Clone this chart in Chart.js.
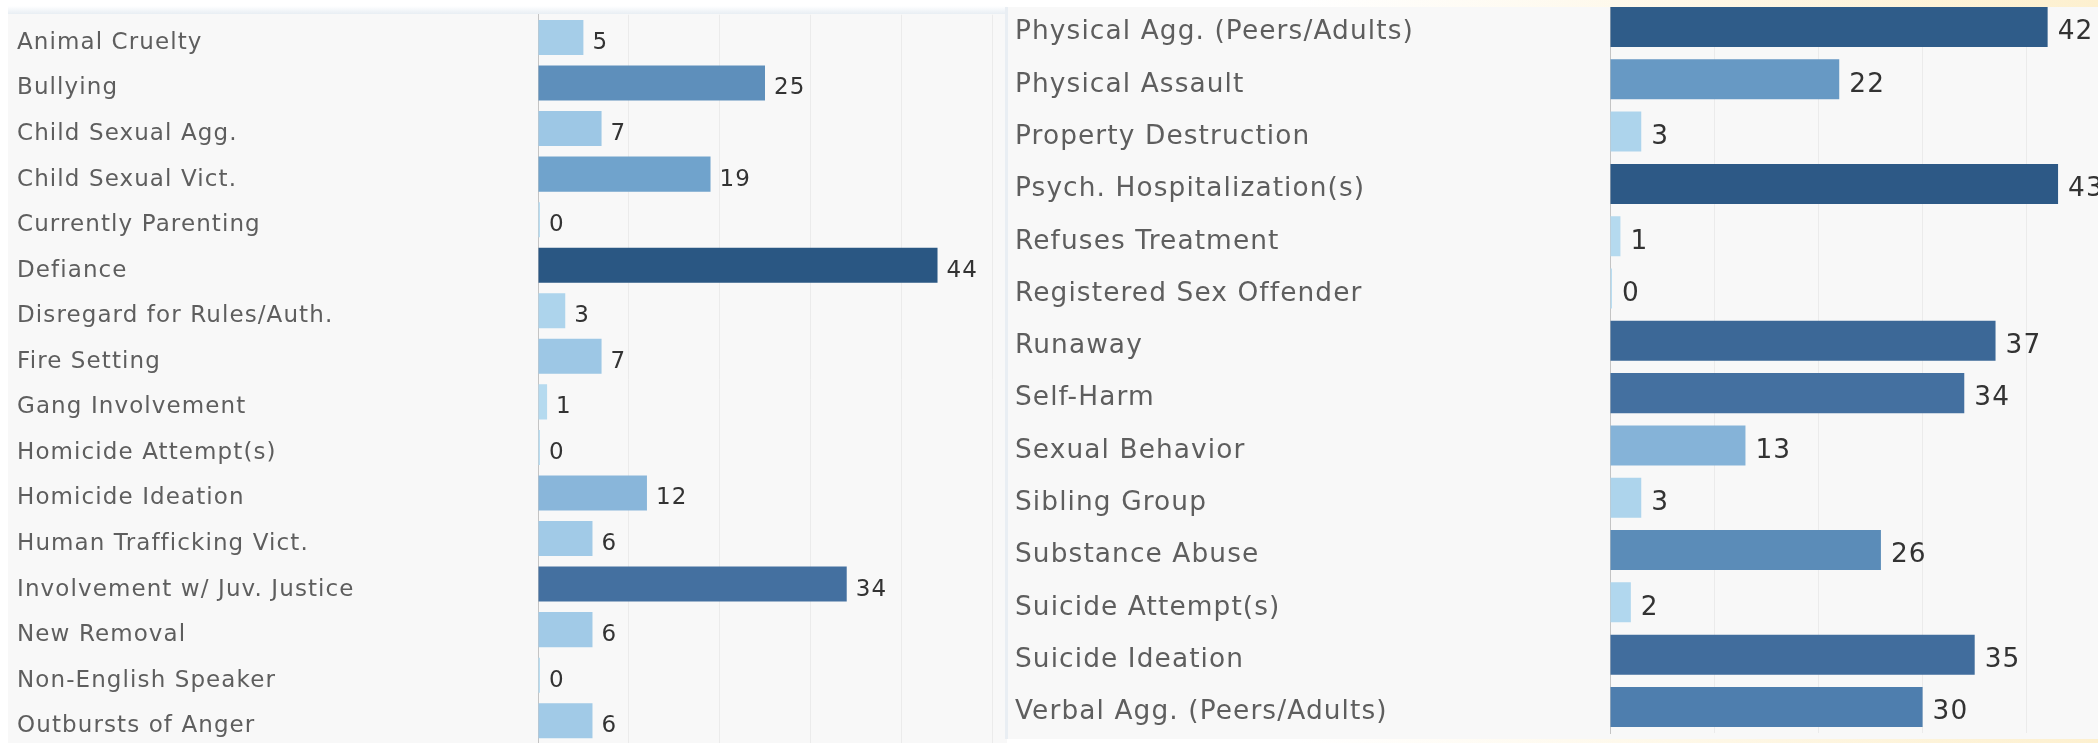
<!DOCTYPE html>
<html>
<head>
<meta charset="utf-8">
<script src="https://cdn.jsdelivr.net/npm/chart.js@4/dist/chart.umd.min.js"></script>
<style>
  html, body { margin: 0; padding: 0; }
  body { width: 2098px; height: 743px; overflow: hidden; background: #ffffff; position: relative; }
  .abs { position: absolute; }
</style>
</head>
<body>
<div class="abs" style="left:8px;top:6px;width:999px;height:8px;background:linear-gradient(#ffffff,#e8eef3);"></div>
<div class="abs" style="left:1300px;top:0;width:798px;height:7px;background:linear-gradient(90deg,#ffffff,#fdf0cf);"></div>
<div class="abs" style="left:1300px;top:739px;width:798px;height:4px;background:linear-gradient(90deg,#ffffff,#fdf0cf);"></div>
<div id="panelL" class="abs" style="left:8px;top:14px;width:999px;height:729px;background:#f8f8f8;overflow:hidden;">
  <div class="abs" style="left:0;top:0;width:999px;height:731px;"><canvas id="chartL"></canvas></div>
</div>
<div class="abs" style="left:1005px;top:7px;width:4px;height:732px;background:#e9eef3;"></div>
<div id="panelR" class="abs" style="left:1008px;top:7px;width:1090px;height:732px;background:#f8f8f8;overflow:hidden;">
  <div class="abs" style="left:0;top:-7px;width:1123px;height:742px;"><canvas id="chartR"></canvas></div>
</div>
<script>
// ---- data ----
const leftCategories = [
  "Animal Cruelty", "Bullying", "Child Sexual Agg.", "Child Sexual Vict.",
  "Currently Parenting", "Defiance", "Disregard for Rules/Auth.", "Fire Setting",
  "Gang Involvement", "Homicide Attempt(s)", "Homicide Ideation", "Human Trafficking Vict.",
  "Involvement w/ Juv. Justice", "New Removal", "Non-English Speaker", "Outbursts of Anger"
];
const leftValues = [5, 25, 7, 19, 0, 44, 3, 7, 1, 0, 12, 6, 34, 6, 0, 6];

const rightCategories = [
  "Physical Agg. (Peers/Adults)", "Physical Assault", "Property Destruction",
  "Psych. Hospitalization(s)", "Refuses Treatment", "Registered Sex Offender",
  "Runaway", "Self-Harm", "Sexual Behavior", "Sibling Group", "Substance Abuse",
  "Suicide Attempt(s)", "Suicide Ideation", "Verbal Agg. (Peers/Adults)"
];
const rightValues = [42, 22, 3, 43, 1, 0, 37, 34, 13, 3, 26, 2, 35, 30];

const axisTicks = [0, 10, 20, 30, 40, 50];

// ---- styles ----
const colorStops = [
  [0, [185, 221, 241]], [7, [157, 199, 229]], [13, [133, 179, 216]],
  [19, [112, 163, 204]], [25, [94, 143, 187]], [30, [78, 126, 174]],
  [35, [65, 109, 157]], [44, [42, 87, 131]]
];
function colorFor(v) {
  for (let i = 1; i < colorStops.length; i++) {
    const [v1, c1] = colorStops[i];
    const [v0, c0] = colorStops[i - 1];
    if (v <= v1) {
      const t = (v - v0) / (v1 - v0);
      const c = c0.map((x, k) => Math.round(x + (c1[k] - x) * t));
      return `rgb(${c[0]},${c[1]},${c[2]})`;
    }
  }
  const c = colorStops[colorStops.length - 1][1];
  return `rgb(${c[0]},${c[1]},${c[2]})`;
}

const FONT = "'DejaVu Sans', 'Open Sans', sans-serif";

function makeChart(id, labels, values, s) {
  const textPlugin = {
    id: 'textPlugin',
    afterDatasetsDraw(chart) {
      const ctx = chart.ctx;
      const yScale = chart.scales.y;
      const meta = chart.getDatasetMeta(0);
      ctx.save();
      ctx.letterSpacing = s.spacing + 'px';
      ctx.textAlign = 'left';
      ctx.textBaseline = 'middle';
      // category labels
      ctx.font = `${s.labelSize}px ${FONT}`;
      ctx.fillStyle = '#5e5e5e';
      labels.forEach((lab, i) => {
        ctx.fillText(lab, yScale.left, yScale.getPixelForValue(i) + s.textShift);
      });
      // value labels
      ctx.font = `${s.valueSize}px ${FONT}`;
      ctx.fillStyle = '#333333';
      meta.data.forEach((bar, i) => {
        ctx.fillText(String(values[i]), bar.x + s.valueGap, bar.y + s.textShift);
      });
      ctx.restore();
    }
  };

  return new Chart(document.getElementById(id), {
    type: 'bar',
    data: {
      labels: labels,
      datasets: [{
        data: values,
        backgroundColor: values.map(colorFor),
        borderWidth: 0,
        minBarLength: 2,
        categoryPercentage: 1,
        barPercentage: s.barPct
      }]
    },
    options: {
      indexAxis: 'y',
      responsive: true,
      maintainAspectRatio: false,
      animation: false,
      events: [],
      layout: { padding: s.padding },
      plugins: { legend: { display: false }, tooltip: { enabled: false } },
      scales: {
        x: {
          min: axisTicks[0],
          max: axisTicks[axisTicks.length - 1],
          afterBuildTicks(scale) { scale.ticks = axisTicks.map(v => ({ value: v })); },
          ticks: { display: false },
          grid: {
            drawTicks: false,
            color: ctx => (ctx.tick && ctx.tick.value === 0) ? 'rgba(0,0,0,0)' : '#ebebeb',
            lineWidth: 1
          },
          border: { display: false },
          afterFit(scale) { scale.height = 0; scale.paddingLeft = 0; scale.paddingRight = 0; }
        },
        y: {
          grid: { display: false, drawTicks: false },
          border: { display: true, color: '#c4c4c4', width: 1, dash: [1, 3] },
          ticks: { display: false, autoSkip: false },
          afterFit(scale) {
            scale.width = s.axisWidth;
            scale.paddingTop = 0;
            scale.paddingBottom = 0;
          }
        }
      }
    },
    plugins: [textPlugin]
  });
}

makeChart('chartL', leftCategories, leftValues, {
  padding: { left: 9, right: 15, top: 0.7, bottom: 1.5 },
  axisWidth: 521,
  labelSize: 23,
  valueSize: 23,
  spacing: 1.1,
  valueGap: 9,
  textShift: 5.5,
  barPct: 0.77
});

makeChart('chartR', rightCategories, rightValues, {
  padding: { left: 7, right: 0, top: 0.85, bottom: 8.9 },
  axisWidth: 595,
  labelSize: 26.4,
  valueSize: 26.4,
  spacing: 1.1,
  valueGap: 10,
  textShift: 5.5,
  barPct: 0.765
});
</script>
</body>
</html>
